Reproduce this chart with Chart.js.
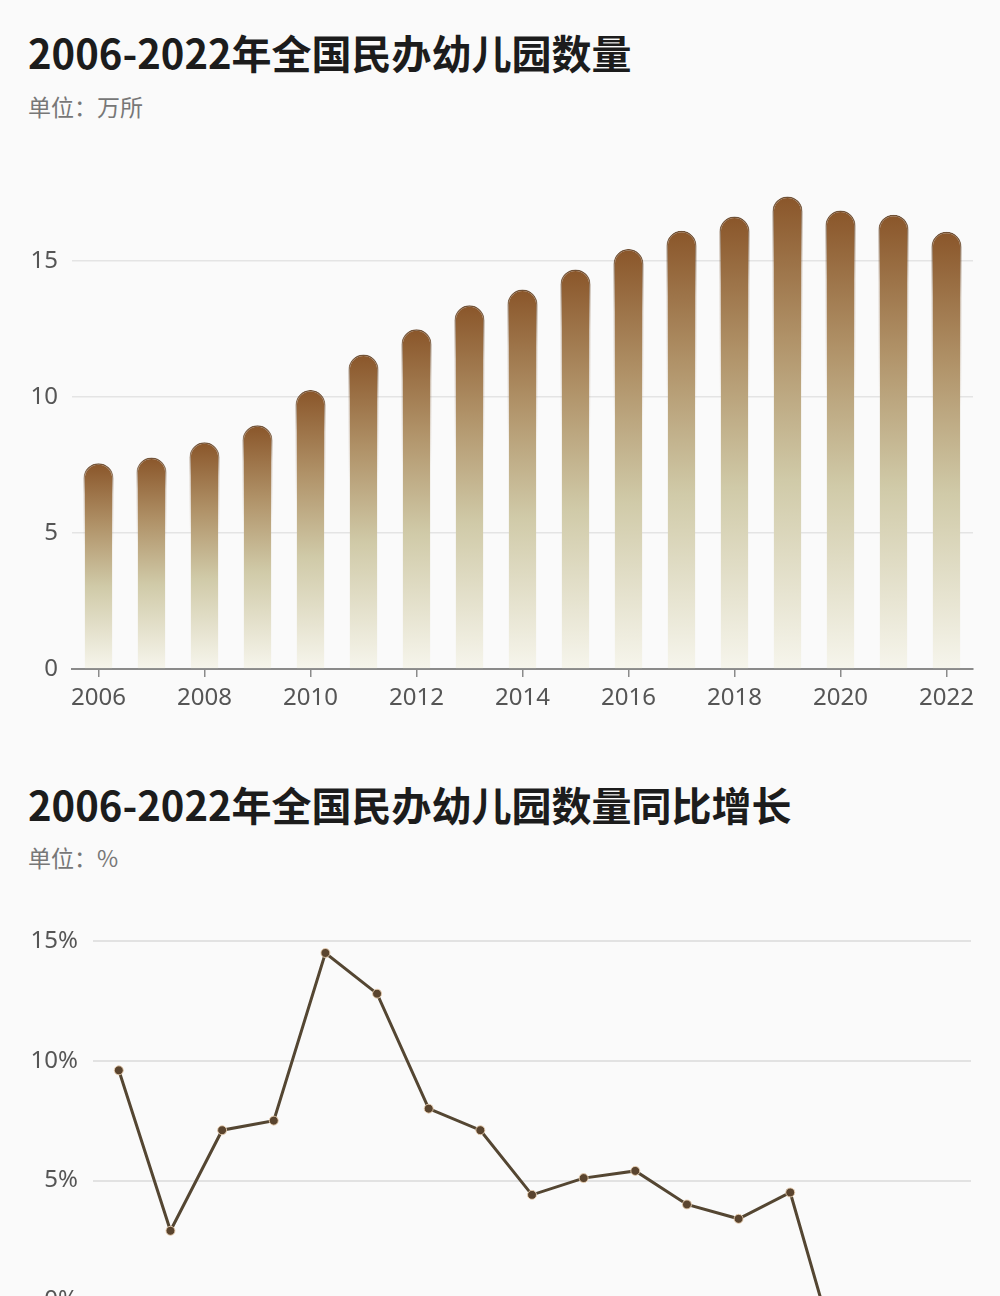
<!DOCTYPE html>
<html>
<head>
<meta charset="utf-8">
<title>2006-2022年全国民办幼儿园数量</title>
<script src="https://cdn.jsdelivr.net/npm/chart.js@4.4.1/dist/chart.umd.min.js"></script>
<style>
    html, body { margin: 0; padding: 0; background: #fafafa; overflow: hidden; }
    body { width: 1000px; height: 1296px; position: relative; font-family: "Noto Sans CJK SC", sans-serif; }
    .title { position: absolute; left: 28px; margin: 0; font-size: 40px; font-weight: 700; color: #1c1c1c; line-height: 1; white-space: nowrap; }
    .unit { position: absolute; left: 28px; font-size: 23px; color: #777; line-height: 1; }
    #countBox { position: absolute; left: 0; top: 150px; width: 1000px; height: 567px; }
    #growthBox { position: absolute; left: 0; top: 901px; width: 1000px; height: 567px; }
</style>
</head>
<body>
<h1 class="title" style="top:32px">2006-2022年全国民办幼儿园数量</h1>
<div class="unit" style="top:95px">单位：万所</div>
<div id="countBox"><canvas id="countChart"></canvas></div>

<h1 class="title" style="top:784px">2006-2022年全国民办幼儿园数量同比增长</h1>
<div class="unit" style="top:846px">单位：%</div>
<div id="growthBox"><canvas id="growthChart"></canvas></div>

<script>
// values
const years = ['2006', '2007', '2008', '2009', '2010', '2011', '2012', '2013', '2014',
    '2015', '2016', '2017', '2018', '2019', '2020', '2021', '2022'];
// 民办幼儿园数量（万所）
const schoolCounts = [7.56, 7.77, 8.33, 8.95, 10.25, 11.55, 12.48, 13.36, 13.94,
    14.68, 15.43, 16.10, 16.62, 17.36, 16.84, 16.69, 16.06];
// 同比增长（%）, last two fall below the visible part of the page
const growthRates = [9.6, 2.9, 7.1, 7.5, 14.5, 12.8, 8.0, 7.1, 4.4,
    5.1, 5.4, 4.0, 3.4, 4.5, -3.0, -0.8, -3.7];

Chart.defaults.font.family = '"Noto Sans", "Noto Sans CJK SC", sans-serif';
Chart.defaults.font.size = 24;
Chart.defaults.color = '#555';

// each bar fades from dark brown at its top to almost white at its foot
function barFill(context) {
    const chart = context.chart;
    if (!chart.chartArea || context.type !== 'data') return '#b49a70';
    const y = chart.scales.y;
    const top = y.getPixelForValue(context.parsed.y);
    const bottom = y.getPixelForValue(0);
    const g = chart.ctx.createLinearGradient(0, top, 0, bottom);
    g.addColorStop(0, 'rgb(138, 86, 42)');
    g.addColorStop(0.3, 'rgb(176, 146, 104)');
    g.addColorStop(0.6, 'rgb(208, 202, 168)');
    g.addColorStop(1, 'rgb(246, 245, 236)');
    return g;
}

function barEdge(context) {
    const chart = context.chart;
    if (!chart.chartArea || context.type !== 'data') return 'rgba(0,0,0,0)';
    const y = chart.scales.y;
    const top = y.getPixelForValue(context.parsed.y);
    const bottom = y.getPixelForValue(0);
    const g = chart.ctx.createLinearGradient(0, top, 0, bottom);
    g.addColorStop(0, 'rgba(95, 60, 30, 0.9)');
    g.addColorStop(0.15, 'rgba(120, 80, 40, 0.3)');
    g.addColorStop(0.4, 'rgba(120, 80, 40, 0)');
    return g;
}

new Chart(document.getElementById('countChart'), {
    type: 'bar',
    data: {
        labels: years,
        datasets: [{
            data: schoolCounts,
            backgroundColor: barFill,
            borderColor: barEdge,
            borderWidth: 1.5,
            borderSkipped: 'bottom',
            borderRadius: { topLeft: 20, topRight: 20, bottomLeft: 0, bottomRight: 0 },
            barPercentage: 0.57,
            categoryPercentage: 1.0
        }]
    },
    options: {
        responsive: true,
        maintainAspectRatio: false,
        animation: false,
        layout: { padding: { top: 29, right: 27, left: 0, bottom: 0 } },
        plugins: { legend: { display: false }, tooltip: { enabled: false } },
        scales: {
            x: {
                offset: true,
                grid: { offset: false, drawOnChartArea: false, tickLength: 8, color: '#8a8a8a', lineWidth: 1.5 },
                border: { color: '#8a8a8a', width: 2 },
                ticks: { autoSkip: true, maxTicksLimit: 9, maxRotation: 0, padding: 7 },
                afterFit: scale => { scale.height = 48; }
            },
            y: {
                min: 0,
                max: 18,
                grid: { color: '#e4e4e4', lineWidth: 1.5, drawTicks: false },
                border: { display: false },
                ticks: { stepSize: 5, includeBounds: false, padding: 14 },
                afterFit: scale => { scale.width = 72; }
            }
        }
    }
});

new Chart(document.getElementById('growthChart'), {
    type: 'line',
    data: {
        labels: years,
        datasets: [{
            data: growthRates,
            borderColor: 'rgb(84, 70, 50)',
            borderWidth: 3,
            tension: 0,
            pointRadius: 4.5,
            pointBackgroundColor: 'rgb(90, 68, 46)',
            pointBorderColor: 'rgba(235, 210, 180, 0.9)',
            pointBorderWidth: 1
        }]
    },
    options: {
        responsive: true,
        maintainAspectRatio: false,
        animation: false,
        layout: { padding: { top: 40, right: 29, left: 0, bottom: 0 } },
        plugins: { legend: { display: false }, tooltip: { enabled: false } },
        scales: {
            x: {
                offset: true,
                grid: { display: false },
                border: { color: '#8a8a8a', width: 2 },
                ticks: { autoSkip: true, maxTicksLimit: 9, maxRotation: 0 },
                afterFit: scale => { scale.height = 48; }
            },
            y: {
                min: -5,
                max: 15,
                grid: { color: '#e2e2e2', lineWidth: 2, drawTicks: false },
                border: { display: false },
                ticks: { stepSize: 5, padding: 15, callback: v => v + '%' },
                afterFit: scale => { scale.width = 93; }
            }
        }
    }
});
</script>
</body>
</html>
